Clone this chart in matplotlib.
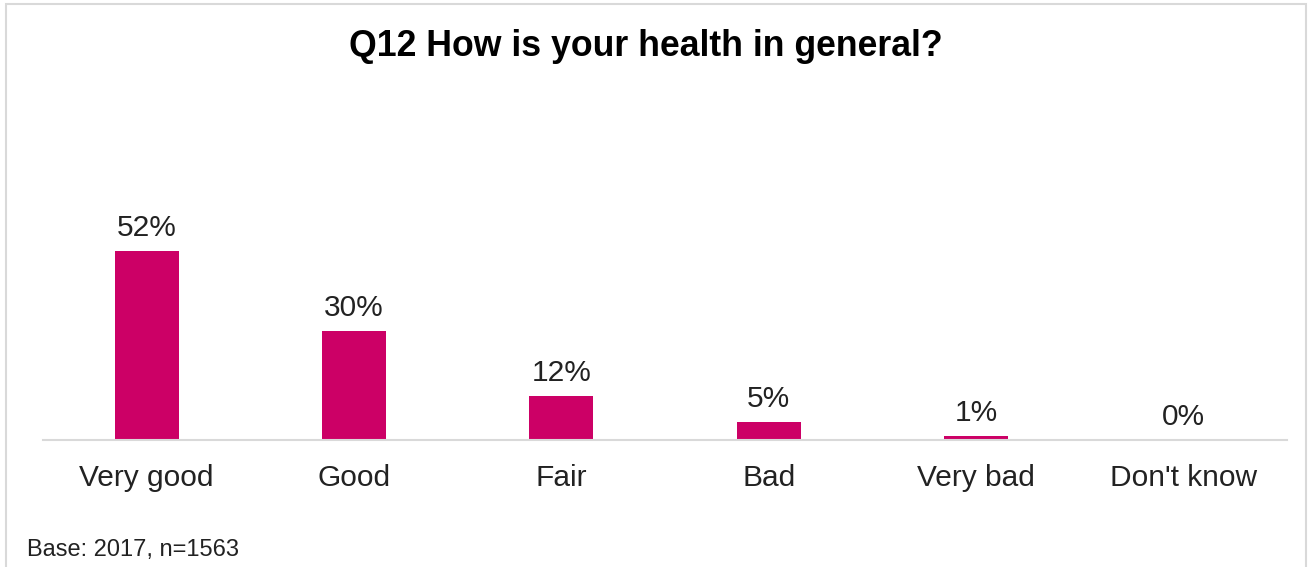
import matplotlib.pyplot as plt
from matplotlib.patches import Rectangle

categories = ["Very good", "Good", "Fair", "Bad", "Very bad", "Don't know"]
shares = [52, 30, 12, 5, 1, 0]

W, H = 1308, 567
plt.rcParams['font.family'] = ['Liberation Sans', 'DejaVu Sans']

fig = plt.figure(figsize=(W / 100, H / 100), dpi=100)
ax = fig.add_axes([43 / W, 1 - 440 / H, (1287 - 43) / W, (440 - 100) / H])

x = range(len(categories))
bars = ax.bar(x, shares, width=0.31, color='#CC0066')

for rect, v in zip(bars, shares):
    ax.annotate(f"{v}%", (rect.get_x() + rect.get_width() / 2, rect.get_height()),
                xytext=(0, 10.8), textcoords='offset points',
                ha='center', va='baseline', fontsize=21.5, color='#222222')

ax.set_xlim(-0.5, len(categories) - 0.5)
ax.set_ylim(0, 93.5)
ax.set_xticks(list(x))
ax.set_xticklabels(categories, fontsize=21.5, color='#222222')
ax.tick_params(axis='x', length=0, pad=17)
ax.set_yticks([])
for side in ['top', 'left', 'right']:
    ax.spines[side].set_visible(False)
ax.spines['bottom'].set_color('#d9d9d9')
ax.spines['bottom'].set_linewidth(1.5)

fig.text(646 / W, 1 - 47 / H, "Q12 How is your health in general?",
         ha='center', va='center', fontsize=25.7, fontweight='bold', color='black')
fig.text(27 / W, 1 - 550 / H, "Base: 2017, n=1563",
         ha='left', va='center', fontsize=17, color='#222222')

# light grey frame around the chart
fig.add_artist(Rectangle((6 / W, -0.05), 1300 / W, (H - 4) / H + 0.05,
                         transform=fig.transFigure, fill=False,
                         edgecolor='#d9d9d9', linewidth=1.5))

fig.savefig("out.png", dpi=100)
